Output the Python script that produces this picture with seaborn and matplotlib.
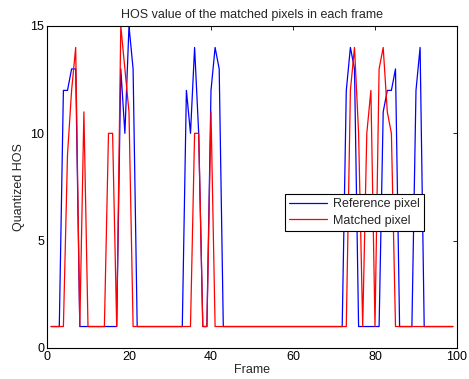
import matplotlib
matplotlib.use("Agg")
import matplotlib.pyplot as plt
import numpy
import pandas
import seaborn as sns

# frame numbers 1..99
frames = list(range(1, 100))

reference_hos = [
	1, 1, 1, 12, 12, 13, 13, 1, 1, 1,
	1, 1, 1, 1, 1, 1, 1, 13, 10, 15,
	13, 1, 1, 1, 1, 1, 1, 1, 1, 1,
	1, 1, 1, 12, 10, 14, 10, 1, 1, 12,
	14, 13, 1, 1, 1, 1, 1, 1, 1, 1,
	1, 1, 1, 1, 1, 1, 1, 1, 1, 1,
	1, 1, 1, 1, 1, 1, 1, 1, 1, 1,
	1, 1, 12, 14, 13, 1, 1, 1, 1, 1,
	1, 11, 12, 12, 13, 1, 1, 1, 1, 12,
	14, 1, 1, 1, 1, 1, 1, 1, 1,
]

matched_hos = [
	1, 1, 1, 1, 9, 12, 14, 1, 11, 1,
	1, 1, 1, 1, 10, 10, 1, 15, 13, 11,
	1, 1, 1, 1, 1, 1, 1, 1, 1, 1,
	1, 1, 1, 1, 1, 10, 10, 1, 1, 11,
	1, 1, 1, 1, 1, 1, 1, 1, 1, 1,
	1, 1, 1, 1, 1, 1, 1, 1, 1, 1,
	1, 1, 1, 1, 1, 1, 1, 1, 1, 1,
	1, 1, 1, 12, 14, 10, 1, 10, 12, 1,
	13, 14, 11, 10, 1, 1, 1, 1, 1, 1,
	1, 1, 1, 1, 1, 1, 1, 1, 1,
]

series_names = ['Reference pixel', 'Matched pixel']
series_colors = ['#0000ff', '#ff0000']

sns.set_theme(style='white')
plt.rcParams['font.family'] = ['Liberation Sans', 'DejaVu Sans']

frame = pandas.DataFrame({
	'Frame': frames * 2,
	'Quantized HOS': reference_hos + matched_hos,
	'series': [series_names[0]] * len(frames) + [series_names[1]] * len(frames),
})

fig = plt.figure(figsize=(4.69, 3.79), dpi=100)
ax = fig.add_axes([0.1002, 0.0818, 0.8742, 0.8496])

sns.lineplot(
	data=frame, x='Frame', y='Quantized HOS', hue='series',
	hue_order=series_names, palette=series_colors,
	linewidth=0.9, ax=ax, estimator=None, sort=False,
)

ax.set_xlim(0, 100)
ax.set_ylim(0, 15)
ax.set_xticks(numpy.arange(0, 101, 20))
ax.set_yticks([0, 5, 10, 15])
ax.tick_params(direction='in', top=True, right=True, length=3, width=0.6,
	labelsize=9, pad=2, colors='black')
for s in ax.spines.values():
	s.set_visible(True)
	s.set_color('black')
	s.set_linewidth(0.8)

ax.set_xlabel('Frame', fontsize=9, labelpad=1)
ax.set_ylabel('Quantized HOS', fontsize=9, labelpad=4)
ax.set_title('HOS value of the matched pixels in each frame', fontsize=9, pad=6)

leg = ax.legend(loc='upper left', bbox_to_anchor=(0.58, 0.478), fontsize=9,
	frameon=True, fancybox=False, framealpha=1, edgecolor='black',
	handlelength=3.0, borderpad=0.35, labelspacing=0.35, handletextpad=0.5,
	borderaxespad=0)
leg.get_frame().set_linewidth(0.8)

fig.savefig('out.png', dpi=100)
